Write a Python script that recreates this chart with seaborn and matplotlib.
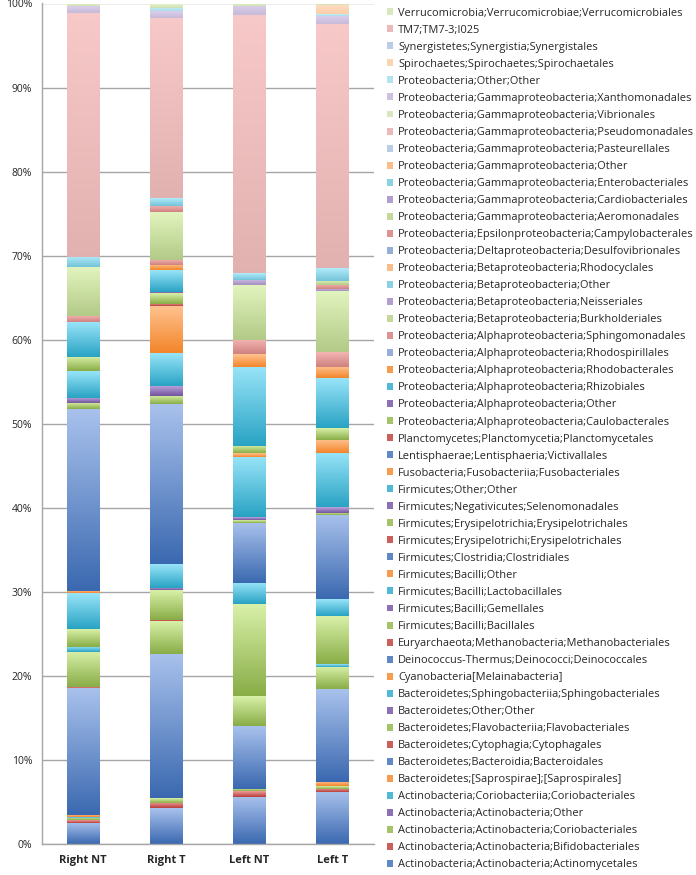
import numpy as np
import pandas as pd
import matplotlib
matplotlib.use("Agg")
import matplotlib.pyplot as plt
import matplotlib.colors as mcolors
from matplotlib.patches import Patch
from matplotlib.ticker import PercentFormatter
import seaborn as sns

sns.set_style("white")
plt.rcParams["font.family"] = ["Open Sans", "DejaVu Sans"]

samples = ["Right NT", "Right T", "Left NT", "Left T"]

# taxa from bottom of the stack to the top
taxa = [
    "Actinobacteria;Actinobacteria;Actinomycetales",
    "Actinobacteria;Actinobacteria;Bifidobacteriales",
    "Actinobacteria;Actinobacteria;Coriobacteriales",
    "Actinobacteria;Actinobacteria;Other",
    "Actinobacteria;Coriobacteriia;Coriobacteriales",
    "Bacteroidetes;[Saprospirae];[Saprospirales]",
    "Bacteroidetes;Bacteroidia;Bacteroidales",
    "Bacteroidetes;Cytophagia;Cytophagales",
    "Bacteroidetes;Flavobacteriia;Flavobacteriales",
    "Bacteroidetes;Other;Other",
    "Bacteroidetes;Sphingobacteriia;Sphingobacteriales",
    "Cyanobacteria[Melainabacteria]",
    "Deinococcus-Thermus;Deinococci;Deinococcales",
    "Euryarchaeota;Methanobacteria;Methanobacteriales",
    "Firmicutes;Bacilli;Bacillales",
    "Firmicutes;Bacilli;Gemellales",
    "Firmicutes;Bacilli;Lactobacillales",
    "Firmicutes;Bacilli;Other",
    "Firmicutes;Clostridia;Clostridiales",
    "Firmicutes;Erysipelotrichi;Erysipelotrichales",
    "Firmicutes;Erysipelotrichia;Erysipelotrichales",
    "Firmicutes;Negativicutes;Selenomonadales",
    "Firmicutes;Other;Other",
    "Fusobacteria;Fusobacteriia;Fusobacteriales",
    "Lentisphaerae;Lentisphaeria;Victivallales",
    "Planctomycetes;Planctomycetia;Planctomycetales",
    "Proteobacteria;Alphaproteobacteria;Caulobacterales",
    "Proteobacteria;Alphaproteobacteria;Other",
    "Proteobacteria;Alphaproteobacteria;Rhizobiales",
    "Proteobacteria;Alphaproteobacteria;Rhodobacterales",
    "Proteobacteria;Alphaproteobacteria;Rhodospirillales",
    "Proteobacteria;Alphaproteobacteria;Sphingomonadales",
    "Proteobacteria;Betaproteobacteria;Burkholderiales",
    "Proteobacteria;Betaproteobacteria;Neisseriales",
    "Proteobacteria;Betaproteobacteria;Other",
    "Proteobacteria;Betaproteobacteria;Rhodocyclales",
    "Proteobacteria;Deltaproteobacteria;Desulfovibrionales",
    "Proteobacteria;Epsilonproteobacteria;Campylobacterales",
    "Proteobacteria;Gammaproteobacteria;Aeromonadales",
    "Proteobacteria;Gammaproteobacteria;Cardiobacteriales",
    "Proteobacteria;Gammaproteobacteria;Enterobacteriales",
    "Proteobacteria;Gammaproteobacteria;Other",
    "Proteobacteria;Gammaproteobacteria;Pasteurellales",
    "Proteobacteria;Gammaproteobacteria;Pseudomonadales",
    "Proteobacteria;Gammaproteobacteria;Vibrionales",
    "Proteobacteria;Gammaproteobacteria;Xanthomonadales",
    "Proteobacteria;Other;Other",
    "Spirochaetes;Spirochaetes;Spirochaetales",
    "Synergistetes;Synergistia;Synergistales",
    "TM7;TM7-3;I025",
    "Verrucomicrobia;Verrucomicrobiae;Verrucomicrobiales",
]

# relative abundance (%) per sample, same order as taxa
right_nt = [2.5, 0.35, 0.25, 0, 0.1, 0.3,
            15.05, 0.1, 4.25, 0, 0.6, 0,
            0, 0, 2.1, 0, 4.25, 0.25,
            21.6, 0, 0.8, 0.6, 3.2, 0,
            0, 0, 1.7, 0, 4.05, 0,
            0, 0.8, 5.75, 0, 0, 0,
            0, 0, 0, 0, 1.2, 0,
            0, 29.1, 0, 0.8, 0, 0,
            0, 0, 0.3]
right_t = [4.25, 0.65, 0.55, 0, 0, 0,
           17.15, 0, 3.9, 0, 0, 0,
           0, 0.2, 3.5, 0.3, 2.8, 0,
           19.0, 0, 1.0, 1.2, 3.9, 5.6,
           0, 0.3, 1.2, 0.2, 2.55, 0.6,
           0, 0.65, 5.65, 0, 0, 0,
           0, 0.8, 0, 0, 0.9, 0,
           0, 21.45, 0, 0.8, 0.4, 0,
           0, 0, 0.5]
left_nt = [5.6, 0.7, 0.3, 0, 0, 0,
           7.45, 0, 3.55, 0, 0, 0,
           0, 0, 10.9, 0, 2.6, 0,
           7.15, 0, 0.35, 0.35, 7.15, 0.4,
           0, 0, 0.9, 0, 9.4, 1.5,
           0, 1.7, 6.5, 0.6, 0, 0,
           0, 0, 0, 0, 0.8, 0,
           0, 30.7, 0, 1.1, 0, 0,
           0, 0, 0.3]
left_t = [6.2, 0.4, 0.3, 0, 0, 0.5,
          11.0, 0, 2.7, 0, 0.3, 0,
          0, 0, 5.7, 0, 2.0, 0,
          10.0, 0, 0.25, 0.7, 6.45, 1.6,
          0, 0, 1.4, 0, 5.9, 1.35,
          0, 1.75, 7.25, 0.25, 0, 0,
          0, 0.5, 0.5, 0, 1.5, 0,
          0, 29.1, 0, 0.9, 0.2, 1.1,
          0, 0, 0.2]

# Excel-like palette: light top / dark bottom of each segment
base_top = ["#A8C1EC", "#F09C9A", "#D8F0A8", "#BCA6DC", "#98E4F8", "#FFC390"]
base_bot = ["#3B69B0", "#B63E3B", "#89AD47", "#73549E", "#29A3C4", "#F3852A"]


def tint(c, f):
    c = np.array(mcolors.to_rgb(c))
    return tuple(c + (1 - c) * f)


tops, bots = [], []
for i in range(len(taxa)):
    k = i % 6
    if i < 30:
        ft, fb = 0.0, 0.0
    elif i < 42:
        ft, fb = 0.25, 0.35
    else:
        ft, fb = 0.45, 0.6
    tops.append(tint(base_top[k], ft))
    bots.append(tint(base_bot[k], fb))
swatch = [tuple(0.35 * np.array(t) + 0.65 * np.array(b)) for t, b in zip(tops, bots)]

values = np.array([right_nt, right_t, left_nt, left_t])
bottoms = np.vstack([np.zeros(4), np.cumsum(values, axis=1).T[:-1]])

fig = plt.figure(figsize=(6.96, 8.75), dpi=100)
ax = fig.add_axes([0.060, 0.0354, 0.477, 0.9606])

for i, name in enumerate(taxa):
    df = pd.DataFrame({"sample": samples, "pct": values[:, i]})
    n_before = len(ax.patches)
    sns.barplot(data=df, x="sample", y="pct", order=samples, color=swatch[i],
                width=0.39, errorbar=None, bottom=bottoms[i], linewidth=0,
                saturation=1, ax=ax)
    cmap = mcolors.LinearSegmentedColormap.from_list("g", [bots[i], tops[i]])
    grad = np.linspace(0, 1, 64).reshape(-1, 1)
    for p in ax.patches[n_before:]:
        if p.get_height() <= 0:
            continue
        x0, y0 = p.get_x(), p.get_y()
        ax.imshow(grad, cmap=cmap, origin="lower", aspect="auto", zorder=1.2,
                  extent=(x0, x0 + p.get_width(), y0, y0 + p.get_height()),
                  interpolation="bilinear")

ax.set_xlim(-0.5, 3.5)
ax.set_ylim(0, 100)
ax.set_xlabel("")
ax.set_ylabel("")
ax.yaxis.set_major_formatter(PercentFormatter(decimals=0))
ax.set_yticks(np.arange(0, 101, 10))
ax.yaxis.grid(True, color="#A6A6A6", linewidth=1.0)
ax.set_axisbelow(True)
for s in ["top", "right"]:
    ax.spines[s].set_visible(False)
for s in ["left", "bottom"]:
    ax.spines[s].set_color("#A6A6A6")
    ax.spines[s].set_linewidth(1.0)
ax.set_xticks([-0.5, 0.5, 1.5, 2.5, 3.5], minor=True)
ax.tick_params(axis="x", which="major", length=0, labelsize=8, pad=8)
ax.tick_params(axis="x", which="minor", length=5, color="#A6A6A6", direction="out")
ax.tick_params(axis="y", length=4, color="#A6A6A6", labelsize=7.5, pad=3)
for lbl in ax.get_xticklabels():
    lbl.set_fontweight("bold")

handles = [Patch(facecolor=swatch[i], edgecolor="none") for i in range(len(taxa))][::-1]
fig.legend(handles, taxa[::-1], loc="upper left", bbox_to_anchor=(0.551, 0.995),
           frameon=False, fontsize=7.9, handlelength=0.6, handleheight=0.6,
           handletextpad=0.45, labelspacing=0.55, borderaxespad=0.0, borderpad=0.3)

fig.savefig("out.png", dpi=100)
